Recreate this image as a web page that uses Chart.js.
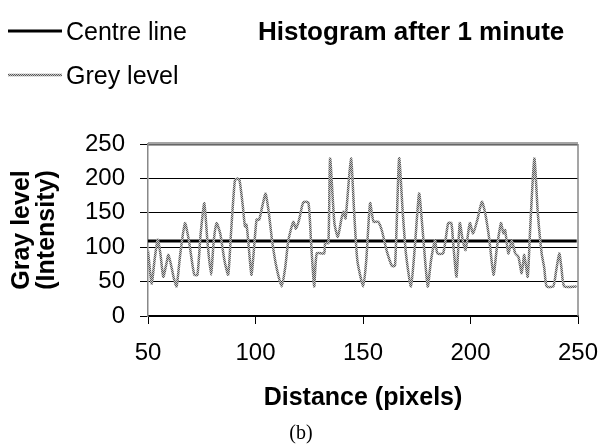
<!DOCTYPE html>
<html><head><meta charset="utf-8">
<script src="https://cdn.jsdelivr.net/npm/chart.js@4.4.0/dist/chart.umd.min.js"></script>
<style>html,body{margin:0;padding:0;background:#fff;}#wrap{position:relative;width:602px;height:447px;}</style>
</head><body><div id="wrap"><canvas id="c" width="602" height="447"></canvas></div>
<script>
const distance = [50,51.7,53,54.5,55.8,57.1,58.5,59.5,61,62,63.3,65,67.2,69,71.5,73,74.5,76.2,77.6,79.3,80.6,81.9,83.6,85.6,87.3,88.6,90.4,91.6,92.6,94.1,95.1,95.8,96.6,98.1,99.1,100.5,101.7,103.2,104.7,106.2,107.7,109.8,112.2,113.8,115.3,117.6,118.8,120.3,122.2,124.6,125.8,127.3,128.5,131.9,132.4,133.9,134.7,136.7,138.3,139.9,140.9,141.9,144.4,145.9,147.4,150.1,151.5,153.3,154.9,157,158.7,161,163.4,164.9,166.8,168.5,170,172.3,174.1,176.1,177.6,180.1,181.6,183.5,184.6,187.3,189.6,191.1,192.1,193.5,195,196.4,197.7,199.7,201.2,203.2,205.3,206.8,208.8,210.7,212.3,214.2,215.3,216.1,217.6,219.2,220.8,222.3,223.8,225,226.6,227.8,229.7,231.3,233.1,234.3,235.4,238.5,239.8,241.3,242.3,243.6,249.4];
const greyLevel = [95,47,80,111,90,57,75,89,70,55,43,90,135,110,60,60,120,164,110,60,110,135,120,80,60,120,197,200,197,160,130,133,110,60,90,140,140,160,178,150,110,70,43,70,110,137,127,140,165,165,110,43,91,91,106,106,229,135,115,140,152,142,229,150,80,43,80,164,137,137,125,95,73,73,229,150,90,43,100,178,130,43,80,110,91,91,135,135,100,57,135,110,96,135,120,140,166,150,110,60,100,135,120,125,91,110,91,86,62,89,57,130,229,150,91,70,43,43,65,91,70,43,43];
const centreDistance = [50, 249.4];
const centreLevel = [109, 109];
const xTickValues = [50, 100, 150, 200, 250];
const yTickValues = [0, 50, 100, 150, 200, 250];
const chartTitle = 'Histogram after 1 minute';
const legendLabels = ['Centre line', 'Grey level'];
const xTitle = 'Distance (pixels)';
const yTitle = ['Gray level', '(Intensity)'];
const caption = '(b)';

const canvas = document.getElementById('c');
const ctx0 = canvas.getContext('2d');
const pc = document.createElement('canvas'); pc.width = 2; pc.height = 2;
const p = pc.getContext('2d');
p.fillStyle = '#c8c8c8'; p.fillRect(0, 0, 2, 2);
p.fillStyle = '#5a5a5a'; p.fillRect(0, 0, 1, 1); p.fillRect(1, 1, 1, 1);
const greyPattern = ctx0.createPattern(pc, 'repeat');

const FONT = '"Liberation Sans", Arial, sans-serif';

const decor = {
  id: 'decor',
  afterDraw(chart) {
    const ctx = chart.ctx, a = chart.chartArea;
    ctx.save();
    ctx.strokeStyle = '#888'; ctx.lineWidth = 1.5;
    ctx.beginPath();
    ctx.moveTo(a.left, a.top - 1); ctx.lineTo(a.right, a.top - 1);
    ctx.moveTo(a.left, a.top + 1); ctx.lineTo(a.right, a.top + 1);
    ctx.moveTo(a.right, a.top); ctx.lineTo(a.right, a.bottom);
    ctx.stroke();
    ctx.lineWidth = 3; ctx.strokeStyle = '#000';
    ctx.beginPath(); ctx.moveTo(8, 31); ctx.lineTo(62, 31); ctx.stroke();
    ctx.lineWidth = 2.5; ctx.strokeStyle = greyPattern;
    ctx.beginPath(); ctx.moveTo(8, 75); ctx.lineTo(62, 75); ctx.stroke();
    ctx.fillStyle = '#000'; ctx.textBaseline = 'middle'; ctx.textAlign = 'left';
    ctx.font = '25px ' + FONT;
    ctx.fillText(legendLabels[0], 66, 33);
    ctx.fillText(legendLabels[1], 66, 77);
    ctx.font = 'bold 26px ' + FONT;
    ctx.fillText(chartTitle, 258, 33);
    ctx.font = '20px "Liberation Serif", "Times New Roman", serif';
    ctx.textAlign = 'center';
    ctx.fillText(caption, 301, 434);
    ctx.restore();
  }
};

new Chart(canvas, {
  type: 'line',
  data: {
    datasets: [
      { label: legendLabels[1], data: distance.map((d, i) => ({x: d, y: greyLevel[i]})),
        borderColor: greyPattern, borderWidth: 2.5, pointRadius: 0, tension: 0.2, fill: false, order: 0 },
      { label: legendLabels[0], data: centreDistance.map((d, i) => ({x: d, y: centreLevel[i]})),
        borderColor: '#000', borderWidth: 3, pointRadius: 0, tension: 0, fill: false, order: 1 }
    ]
  },
  options: {
    responsive: false, animation: false, devicePixelRatio: 1,
    layout: { padding: { top: 144, right: 24, bottom: 0, left: 0 } },
    plugins: { legend: { display: false }, tooltip: { enabled: false }, title: { display: false } },
    scales: {
      x: {
        type: 'linear', min: 50, max: 250,
        afterBuildTicks: s => { s.ticks = xTickValues.map(v => ({value: v})); },
        afterFit: s => { s.height = 131; s.paddingLeft = 0; s.paddingRight = 0; },
        ticks: { color: '#000', font: { family: FONT, size: 24 }, padding: 15, maxRotation: 0, autoSkip: false },
        grid: { drawOnChartArea: false, drawTicks: true, tickLength: 8, color: '#000', lineWidth: 1 },
        border: { display: true, color: '#000', width: 1.5 },
        title: { display: true, text: xTitle, color: '#000', font: { family: FONT, size: 25, weight: 'bold', lineHeight: 1.2 }, padding: { top: 0, bottom: 34 } }
      },
      y: {
        min: 0, max: 250,
        afterBuildTicks: s => { s.ticks = yTickValues.map(v => ({value: v})); },
        afterFit: s => { s.width = 148; s.paddingTop = 0; s.paddingBottom = 0; },
        ticks: { color: '#000', font: { family: FONT, size: 24 }, padding: 15 },
        grid: { drawTicks: true, tickLength: 8, color: '#000', lineWidth: 1 },
        border: { display: true, color: '#888', width: 1.5 },
        title: { display: true, text: yTitle, color: '#000', font: { family: FONT, size: 25, weight: 'bold', lineHeight: 1.0 }, padding: { top: 10, bottom: 0 } }
      }
    }
  },
  plugins: [decor]
});
</script></body></html>
